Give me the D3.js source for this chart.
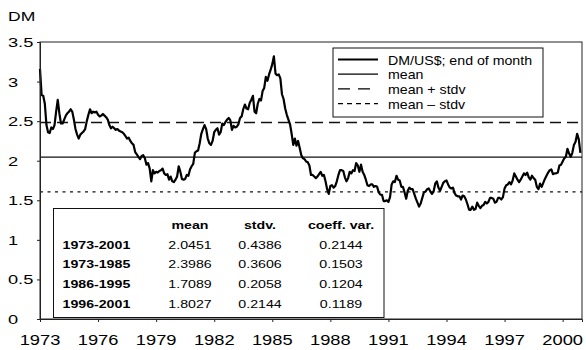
<!DOCTYPE html>
<html>
<head>
<meta charset="utf-8">
<script src="https://cdn.jsdelivr.net/npm/d3@7"></script>
<style>
  html, body { margin: 0; padding: 0; background: #fff; }
  svg { display: block; }
  text { font-family: "Liberation Sans", Arial, Helvetica, sans-serif; fill: #000; }
</style>
</head>
<body>
<svg id="chart" width="586" height="350"></svg>
<script>
// DM per US dollar, end of month, January of each year through December
const rates1973_1979 = [
  3.16, 2.83, 2.82, 2.72, 2.45, 2.36, 2.35, 2.42, 2.40, 2.45, 2.62, 2.77,
  2.60, 2.47, 2.47, 2.52, 2.57, 2.60, 2.62, 2.65, 2.62, 2.52, 2.40, 2.33,
  2.28, 2.33, 2.35, 2.37, 2.40, 2.50, 2.58, 2.65, 2.60, 2.62, 2.61, 2.62,
  2.58, 2.56, 2.57, 2.59, 2.57, 2.55, 2.52, 2.45, 2.41, 2.43, 2.41, 2.39,
  2.40, 2.38, 2.37, 2.36, 2.34, 2.31, 2.28, 2.29, 2.25, 2.22, 2.20, 2.11,
  2.08, 2.05, 2.02, 2.06, 2.07, 2.03, 1.95, 1.97, 1.90, 1.74, 1.88, 1.84,
  1.86, 1.85, 1.87, 1.88, 1.90, 1.84, 1.82, 1.83, 1.76, 1.80, 1.74, 1.73
];
const rates1980_1986 = [
  1.76, 1.80, 1.93, 1.86, 1.77, 1.76, 1.77, 1.82, 1.81, 1.89, 1.93, 1.96,
  2.10, 2.12, 2.13, 2.22, 2.34, 2.40, 2.45, 2.40, 2.28, 2.22, 2.20, 2.25,
  2.36, 2.39, 2.41, 2.33, 2.36, 2.47, 2.45, 2.49, 2.52, 2.54, 2.51, 2.39,
  2.44, 2.42, 2.43, 2.46, 2.54, 2.56, 2.65, 2.71, 2.66, 2.65, 2.73, 2.77,
  2.82, 2.62, 2.60, 2.72, 2.78, 2.76, 2.88, 2.92, 3.06, 3.01, 3.09, 3.15,
  3.22, 3.32, 3.10, 3.08, 3.09, 3.04, 2.84, 2.78, 2.66, 2.58, 2.52, 2.46,
  2.34, 2.20, 2.28, 2.19, 2.25, 2.16, 2.07, 2.03, 2.02, 1.99, 1.98, 1.94
];
const rates1987_1993 = [
  1.82, 1.82, 1.80, 1.78, 1.80, 1.83, 1.86, 1.81, 1.82, 1.74, 1.64, 1.58,
  1.68, 1.69, 1.66, 1.68, 1.74, 1.82, 1.88, 1.88, 1.87, 1.79, 1.74, 1.78,
  1.86, 1.84, 1.88, 1.87, 1.97, 1.94, 1.86, 1.95, 1.86, 1.82, 1.76, 1.69,
  1.68, 1.70, 1.70, 1.67, 1.68, 1.67, 1.60, 1.57, 1.57, 1.49, 1.49, 1.50,
  1.48, 1.54, 1.70, 1.74, 1.73, 1.81, 1.76, 1.75, 1.67, 1.67, 1.60, 1.52,
  1.62, 1.66, 1.64, 1.64, 1.58, 1.52, 1.47, 1.42, 1.46, 1.53, 1.60, 1.61,
  1.64, 1.65, 1.61, 1.58, 1.61, 1.71, 1.74, 1.66, 1.62, 1.67, 1.72, 1.74
];
const rates1994_2000 = [
  1.75, 1.70, 1.66, 1.65, 1.66, 1.59, 1.56, 1.55, 1.55, 1.51, 1.56, 1.55,
  1.51, 1.45, 1.38, 1.38, 1.42, 1.38, 1.39, 1.47, 1.43, 1.40, 1.43, 1.44,
  1.48, 1.46, 1.48, 1.53, 1.53, 1.52, 1.47, 1.48, 1.53, 1.53, 1.51, 1.54,
  1.65, 1.69, 1.70, 1.73, 1.70, 1.75, 1.84, 1.80, 1.76, 1.73, 1.76, 1.80,
  1.84, 1.82, 1.85, 1.79, 1.76, 1.81, 1.78, 1.76, 1.67, 1.64, 1.71, 1.67,
  1.72, 1.77, 1.81, 1.85, 1.88, 1.89, 1.83, 1.84, 1.84, 1.85, 1.94, 1.95,
  1.99, 2.03, 2.05, 2.15, 2.09, 2.05, 2.10, 2.20, 2.24, 2.34, 2.27, 2.10
];
const firstYear = 1973;

// Summary statistics (whole period and sub-periods)
const periods   = ["1973-2001", "1973-1985", "1986-1995", "1996-2001"];
const means     = [2.0451, 2.3986, 1.7089, 1.8027];
const stdvs     = [0.4386, 0.3606, 0.2058, 0.2144];
const coeffVars = [0.2144, 0.1503, 0.1204, 0.1189];
const statHeaders = ["mean", "stdv.", "coeff. var."];

// Axis ticks
const xTicks = [1973, 1976, 1979, 1982, 1985, 1988, 1991, 1994, 1997, 2000];
const yTicks = [0, 0.5, 1, 1.5, 2, 2.5, 3, 3.5];

// Legend entries
const legendLabels = ["DM/US$; end of month", "mean", "mean + stdv", "mean \u2013 stdv"];

const rates = [].concat(rates1973_1979, rates1980_1986, rates1987_1993, rates1994_2000);
const series = rates.map((v, i) => ({ t: firstYear + i / 12, v }));

const svg = d3.select("#chart");
const x = d3.scaleLinear().domain([1973, 2001]).range([40, 582]);
const y = d3.scaleLinear().domain([0, 3.5]).range([319, 42]);

// helper: horizontally widened text
function stext(parent, px, py, str, opts) {
  const o = Object.assign({ size: 14, sx: 1, anchor: "start", weight: "normal" }, opts || {});
  return parent.append("text")
    .attr("transform", `translate(${px},${py}) scale(${o.sx},1)`)
    .attr("text-anchor", o.anchor)
    .style("font-size", o.size + "px")
    .style("font-weight", o.weight)
    .text(str);
}

// plot frame
svg.append("rect")
  .attr("x", x(1973)).attr("y", y(3.5))
  .attr("width", x(2001) - x(1973)).attr("height", y(0) - y(3.5))
  .attr("fill", "none").attr("stroke", "#222").attr("stroke-width", 1);

// reference lines
const m = means[0], s = stdvs[0];
const refLines = [
  { v: m, dash: null, w: 1.2 },
  { v: m + s, dash: "11,6", w: 1.4 },
  { v: m - s, dash: "3,4.5", w: 1.4 }
];
svg.selectAll("line.ref").data(refLines).join("line")
  .attr("class", "ref")
  .attr("x1", x(1973)).attr("x2", x(2001))
  .attr("y1", d => y(d.v)).attr("y2", d => y(d.v))
  .attr("stroke", "#111").attr("stroke-width", d => d.w)
  .attr("stroke-dasharray", d => d.dash);

// exchange-rate line
svg.append("path")
  .datum(series)
  .attr("fill", "none").attr("stroke", "#000").attr("stroke-width", 2.2)
  .attr("stroke-linejoin", "round")
  .attr("d", d3.line().x(d => x(d.t)).y(d => y(d.v)));

// axes
const gx = svg.append("g").attr("transform", `translate(0,${y(0)})`)
  .call(d3.axisBottom(x).tickValues(xTicks).tickSize(3).tickFormat(""));
const gy = svg.append("g").attr("transform", `translate(${x(1973)},0)`)
  .call(d3.axisLeft(y).tickValues(yTicks).tickSize(3).tickFormat(""));
[gx, gy].forEach(g => {
  g.select(".domain").attr("stroke", "#222");
  g.selectAll(".tick line").attr("stroke", "#222");
});

xTicks.forEach(t => stext(svg, x(t), 345, String(t), { size: 15, sx: 1.22, anchor: "middle" }));
yTicks.forEach(t => stext(svg, 8, y(t) + 5, String(t), { size: 13.5, sx: 1.35 }));
stext(svg, 8, 21, "DM", { size: 13, sx: 1.35 });

// legend
const lg = svg.append("g");
lg.append("rect").attr("x", 333).attr("y", 48).attr("width", 210).attr("height", 69)
  .attr("fill", "#fff").attr("stroke", "#111").attr("stroke-width", 1);
const legendStyles = [
  { dash: null, w: 2.2 }, { dash: null, w: 1.2 }, { dash: "12,8", w: 1.4 }, { dash: "5,4", w: 1.4 }
];
legendLabels.forEach((lab, i) => {
  const ly = 59.5 + i * 14.7;
  lg.append("line").attr("x1", 338).attr("x2", 378).attr("y1", ly).attr("y2", ly)
    .attr("stroke", "#000").attr("stroke-width", legendStyles[i].w)
    .attr("stroke-dasharray", legendStyles[i].dash);
  stext(lg, 388, ly + 5, lab, { size: 13.5, sx: 1.05 });
});

// statistics table
const tb = svg.append("g");
tb.append("rect").attr("x", 53.5).attr("y", 208.5).attr("width", 330.5).attr("height", 109)
  .attr("fill", "#fff").attr("stroke", "#111").attr("stroke-width", 1);
const colX = [190, 260, 341];
statHeaders.forEach((h, j) => stext(tb, colX[j], 228.5, h, { size: 10.5, sx: 1.35, anchor: "middle", weight: "bold" }));
periods.forEach((p, i) => {
  const ry = 248.5 + i * 19.7;
  stext(tb, 62.5, ry, p, { size: 10.5, sx: 1.35, weight: "bold" });
  [means[i], stdvs[i], coeffVars[i]].forEach((v, j) =>
    stext(tb, colX[j], ry, v.toFixed(4), { size: 10.5, sx: 1.35, anchor: "middle" }));
});
</script>
</body>
</html>
